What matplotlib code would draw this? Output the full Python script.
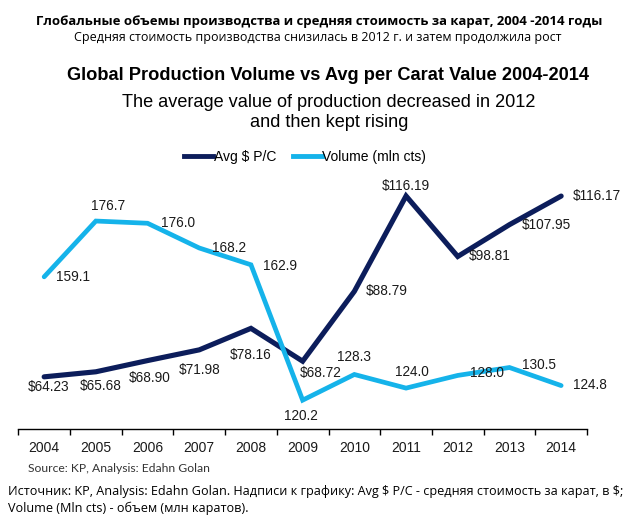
import matplotlib
matplotlib.use('Agg')
import matplotlib.pyplot as plt
from matplotlib.lines import Line2D

# данные с графика
years = ['2004', '2005', '2006', '2007', '2008', '2009', '2010', '2011', '2012', '2013', '2014']
avg_pc = [64.23, 65.68, 68.90, 71.98, 78.16, 68.72, 88.79, 116.19, 98.81, 107.95, 116.17]
volume = [159.1, 176.7, 176.0, 168.2, 162.9, 120.2, 128.3, 124.0, 128.0, 130.5, 124.8]

ru_title = 'Глобальные объемы производства и средняя стоимость за карат, 2004 -2014 годы'
ru_subtitle = 'Средняя стоимость производства снизилась в 2012 г. и затем продолжила рост'
en_title = 'Global Production Volume vs Avg per Carat Value 2004-2014'
en_subtitle = 'The average value of production decreased in 2012\nand then kept rising'
source = 'Source: KP, Analysis: Edahn Golan'
ru_note = ('Источник: KP, Analysis: Edahn Golan. Надписи к графику: Avg $ P/C - средняя стоимость за карат, в $;\n'
           'Volume (Mln cts) - объем (млн каратов).')

NAVY = '#0c1d5b'
LIGHT = '#15b3ea'
W, H = 638, 524

# смещения подписей в пикселях (dx вправо, dy вниз)
avg_off = [(4, 10), (5, 14), (2, 17), (0, 20), (0, 27), (18, 12), (32, 0), (0, -10), (32, 0), (37, 0), (36, 0)]
vol_off = [(29, 0), (12, -15), (30, 0), (30, 0), (29, 1), (-2, 16), (0, -17), (6, -16), (29, -2), (30, -2), (29, -1)]

plt.rcParams['font.family'] = ['Liberation Sans', 'DejaVu Sans']

fig = plt.figure(figsize=(W / 100, H / 100), dpi=100)
left, right, top, bottom = 18.3, 587, 170, 429
ax = fig.add_axes([left / W, 1 - bottom / H, (right - left) / W, (bottom - top) / H])
ax2 = ax.twinx()

x = list(range(len(years)))
ax.plot(x, avg_pc, color=NAVY, lw=3.7, solid_capstyle='round', solid_joinstyle='miter')
ax2.plot(x, volume, color=LIGHT, lw=3.4, solid_capstyle='round', solid_joinstyle='miter')

ax.set_xlim(-0.5, len(years) - 0.5)
ax.set_ylim(49.24, 123.66)
ax2.set_ylim(111.1, 192.8)

for a in (ax, ax2):
    for s in ('top', 'left', 'right'):
        a.spines[s].set_visible(False)
    a.set_yticks([])
ax2.spines['bottom'].set_visible(False)
ax.spines['bottom'].set_linewidth(1.0)
ax.spines['bottom'].set_color('black')

ax.set_xticks(x)
ax.set_xticklabels(years, fontsize=10, color='#1a1a1a')
ax.tick_params(axis='x', which='major', length=0, pad=9)
ax.set_xticks([i - 0.5 for i in range(len(years) + 1)], minor=True)
ax.tick_params(axis='x', which='minor', length=4, width=1.0, color='black', direction='out')

for i, v in enumerate(avg_pc):
    dx, dy = avg_off[i]
    ax.annotate(f'${v:.2f}', (i, v), xytext=(dx, -dy), textcoords='offset pixels',
                ha='center', va='center', fontsize=9.8, color='#1a1a1a', parse_math=False)
for i, v in enumerate(volume):
    dx, dy = vol_off[i]
    ax2.annotate(f'{v:.1f}', (i, v), xytext=(dx, -dy), textcoords='offset pixels',
                 ha='center', va='center', fontsize=9.8, color='#1a1a1a')

handles = [Line2D([], [], color=NAVY, lw=3.5), Line2D([], [], color=LIGHT, lw=3.5)]
fig.legend(handles, ['Avg $ P/C', 'Volume (mln cts)'], loc='center', ncol=2,
           bbox_to_anchor=(305 / W, 1 - 157 / H), frameon=False, fontsize=10,
           handlelength=2.1, handletextpad=0.05, columnspacing=1.2)

ru_fonts = ['Open Sans', 'DejaVu Sans']
texts = []
t = fig.text(319 / W, 1 - 21 / H, ru_title, ha='center', va='center', fontsize=9.5,
             fontweight='bold', family=ru_fonts)
texts.append((t, 569))
t = fig.text(318 / W, 1 - 38 / H, ru_subtitle, ha='center', va='center', fontsize=9.5,
             family=ru_fonts)
texts.append((t, 492))
t = fig.text(328 / W, 1 - 75 / H, en_title, ha='center', va='center', fontsize=13.5,
             fontweight='bold')
texts.append((t, 522))
t = fig.text(329 / W, 1 - 112.5 / H, en_subtitle, ha='center', va='center', fontsize=13,
             linespacing=1.2)
texts.append((t, 415))
t = fig.text(28 / W, 1 - 468 / H, source, ha='left', va='center', fontsize=7.5,
             color='#333333', family=['Lato', 'DejaVu Sans'])
texts.append((t, 181))
t = fig.text(8 / W, 1 - 500 / H, ru_note, ha='left', va='center', fontsize=9.5,
             family=ru_fonts, linespacing=1.3, parse_math=False)
texts.append((t, 619))

# подгонка размера шрифта под ширину надписей на оригинале
renderer = fig.canvas.get_renderer()
for t, target in texts:
    w = t.get_window_extent(renderer).width
    t.set_fontsize(t.get_fontsize() * target / w)

fig.savefig('out.png', dpi=100)
